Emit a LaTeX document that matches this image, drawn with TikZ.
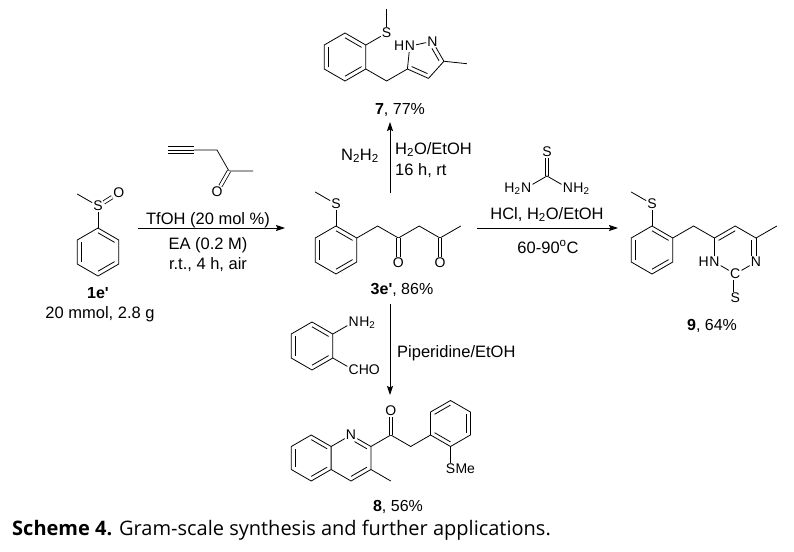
\documentclass[tikz,border=0pt]{standalone}
\usepackage{fontspec}
\setmainfont{Liberation Sans}
\newfontfamily\capfont{Open Sans}
\usetikzlibrary{calc,arrows.meta}

\newcommand\hexring[4]{%
  \coordinate (#1c) at (#2,#3);
  \coordinate (#11) at (#2,{#3-#4});
  \coordinate (#12) at ({#2+0.866*#4},{#3-0.5*#4});
  \coordinate (#13) at ({#2+0.866*#4},{#3+0.5*#4});
  \coordinate (#14) at (#2,{#3+#4});
  \coordinate (#15) at ({#2-0.866*#4},{#3+0.5*#4});
  \coordinate (#16) at ({#2-0.866*#4},{#3-0.5*#4});
}
\newcommand\rdb[4][0pt]{\draw[bond,shorten >=#1] ($(#2)!0.2!(#4)$) -- ($(#3)!0.2!(#4)$);}
\newcommand\ringsix[1]{\draw[bond] (#11)--(#12)--(#13)--(#14)--(#15)--(#16)--cycle;}

\begin{document}
\begin{tikzpicture}[x=1pt,y=-1pt,
  bond/.style={line width=0.8pt,line join=round},
  dbond/.style={bond,double,double distance=2.6pt},
  atom/.style={font=\fontsize{14}{16}\selectfont,inner sep=1pt},
  cond/.style={font=\fontsize{16.5}{19}\selectfont,inner sep=0pt},
  lab/.style={font=\fontsize{16}{19}\selectfont,inner sep=0pt},
  arr/.style={line width=0.9pt,-{Stealth[length=9pt,width=6pt,inset=1.5pt]}}]
\useasboundingbox[fill=white] (0,0) rectangle (794,551);

% ---------- 1e'
\hexring{A}{98}{252}{24}
\ringsix{A}
\rdb{A1}{A2}{Ac} \rdb{A3}{A4}{Ac} \rdb{A5}{A6}{Ac}
\node[atom] (S1) at (98,206) {S};
\node[atom] (O1) at (118.8,193) {O};
\coordinate (M1) at (77.2,194);
\draw[bond] (A1) -- (S1);
\draw[bond] (M1) -- (S1);
\draw[dbond] (S1) -- (O1);
\node[lab,anchor=base] (L1) at (98,298) {\textbf{1e\textquotesingle}};
\node[cond,anchor=base] (L1b) at (100,318) {20 mmol, 2.8 g};

% ---------- pentynone
\coordinate (Y1) at (168,150);
\coordinate (Y2) at (194,150);
\coordinate (Y3) at (217,150);
\coordinate (Y4) at (229,171);
\coordinate (Y5) at (253,171);
\node[atom] (OY) at (217,192) {O};
\draw[bond] (Y1) -- (Y2);
\draw[bond] ([yshift=3.5pt]Y1) -- ([yshift=3.5pt]Y2);
\draw[bond] ([yshift=-3.5pt]Y1) -- ([yshift=-3.5pt]Y2);
\draw[bond] (Y2) -- (Y3) -- (Y4) -- (Y5);
\draw[dbond] (Y4) -- (OY);

% ---------- arrow 1
\coordinate (R1a) at (138,228);
\coordinate (R1b) at (285,228);
\draw[arr] (R1a) -- (R1b);
\node[cond,anchor=base] (T1) at (208,224) {TfOH (20 mol \%)};
\node[cond,anchor=base] (T2) at (208,249) {EA (0.2 M)};
\node[cond,anchor=base] (T3) at (208,269) {r.t., 4 h, air};

% ---------- 3e'
\hexring{B}{336}{250}{24}
\ringsix{B}
\rdb{B1}{B2}{Bc} \rdb{B3}{B4}{Bc} \rdb{B5}{B6}{Bc}
\node[atom] (S3) at (336,204) {S};
\coordinate (M3) at (315.2,192);
\draw[bond] (B1) -- (S3);
\draw[bond] (M3) -- (S3);
\coordinate (K1) at (377.6,226);
\coordinate (K2) at (398.4,238);
\coordinate (K3) at (419.2,226);
\coordinate (K4) at (440,238);
\coordinate (K5) at (460.8,226);
\draw[bond] (B2) -- (K1) -- (K2) -- (K3) -- (K4) -- (K5);
\node[atom] (OK2) at (398.4,263) {O};
\node[atom] (OK4) at (440,263) {O};
\draw[dbond] (K2) -- (OK2);
\draw[dbond] (K4) -- (OK4);
\node[lab,anchor=base] (L3) at (402,294) {\textbf{3e\textquotesingle}, 86\%};

% ---------- arrow up
\coordinate (R2a) at (390,193);
\coordinate (R2b) at (390,122);
\draw[arr] (R2a) -- (R2b);
\node[cond,anchor=base east] (T4) at (379,160) {N\textsubscript{2}H\textsubscript{2}};
\node[cond,anchor=base west] (T5) at (395,154) {H\textsubscript{2}O/EtOH};
\node[cond,anchor=base west] (T6) at (395,175) {16 h, rt};

% ---------- 7
\hexring{C}{345}{57}{24}
\ringsix{C}
\rdb{C1}{C2}{Cc} \rdb{C3}{C4}{Cc} \rdb{C5}{C6}{Cc}
\node[atom] (S7) at (386.6,33) {S};
\coordinate (M7) at (386.6,9);
\draw[bond] (C2) -- (S7);
\draw[bond] (M7) -- (S7);
\coordinate (W0) at (386.6,81);
\coordinate (P5) at (407.4,69);
\node[atom] (P1) at (409.8,46.1) {N};
\node[atom,anchor=base east,inner sep=0pt] (P1h) at ([xshift=0.8pt]P1.base west) {H};
\node[atom] (P2) at (432.4,41.3) {N};
\coordinate (P3) at (443.9,61.25);
\coordinate (P4) at (428.5,78.4);
\coordinate (Pc) at (424.4,59.2);
\coordinate (M7b) at (466.8,63.7);
\draw[bond] (C3) -- (W0) -- (P5) -- (P4) -- (P3) -- (M7b);
\draw[bond] (P5) -- (P1);
\draw[bond] (P1) -- (P2);
\draw[bond] (P2) -- (P3);
\draw[bond] ($(P5)!0.25!(Pc)$) -- ($(P4)!0.25!(Pc)$);
\draw[bond,shorten >=3pt] ($(P3)!0.25!(Pc)$) -- ($(P2)!0.25!(Pc)$);
\node[lab,anchor=base] (L7) at (400,114) {\textbf{7}, 77\%};

% ---------- thiourea
\coordinate (Tc) at (547,176);
\node[atom] (TS) at (547,152) {S};
\node[atom] (TN1) at (526.2,188) {N};
\node[atom,anchor=base east,inner sep=0pt] (TN1h) at ([xshift=0.8pt]TN1.base west) {H\textsubscript{2}};
\node[atom] (TN2) at (567.8,188) {N};
\node[atom,anchor=base west,inner sep=0pt] (TN2h) at ([xshift=-0.8pt]TN2.base east) {H\textsubscript{2}};
\draw[dbond] (Tc) -- (TS);
\draw[bond] (TN1) -- (Tc) -- (TN2);

% ---------- arrow 2
\coordinate (R3a) at (477,228);
\coordinate (R3b) at (618,228);
\draw[arr] (R3a) -- (R3b);
\node[cond,anchor=base] (T7) at (547,219) {HCl, H\textsubscript{2}O/EtOH};
\node[cond,anchor=base] (T8) at (548,253) {60-90\textsuperscript{o}C};

% ---------- 9
\hexring{D}{652}{250}{24}
\ringsix{D}
\rdb{D1}{D2}{Dc} \rdb{D3}{D4}{Dc} \rdb{D5}{D6}{Dc}
\node[atom] (S9) at (652,204) {S};
\coordinate (M9) at (631.2,192);
\draw[bond] (D1) -- (S9);
\draw[bond] (M9) -- (S9);
\coordinate (E0) at (693.6,226);
\coordinate (Qc) at (735.2,250);
\coordinate (Q6) at (714.4,238);
\coordinate (Q5) at (735.2,226);
\coordinate (Q4) at (756,238);
\node[atom] (Q3) at (756,262) {N};
\node[atom] (Q2) at (735.2,274) {C};
\node[atom] (Q1) at (714.4,262) {N};
\node[atom,anchor=base east,inner sep=0pt] (Q1h) at ([xshift=0.8pt]Q1.base west) {H};
\coordinate (M9b) at (776.8,226);
\node[atom] (S9b) at (735.2,298) {S};
\draw[bond] (D2) -- (E0) -- (Q6) -- (Q5) -- (Q4) -- (M9b);
\draw[bond] (Q4) -- (Q3);
\draw[bond] (Q3) -- (Q2);
\draw[bond] (Q2) -- (Q1);
\draw[bond] (Q1) -- (Q6);
\draw[dbond] (Q2) -- (S9b);
\rdb{Q6}{Q5}{Qc}
\rdb[4pt]{Q4}{Q3}{Qc}
\node[lab,anchor=base] (L9) at (712,330) {\textbf{9}, 64\%};

% ---------- 2-aminobenzaldehyde
\hexring{F}{312}{346}{24}
\ringsix{F}
\rdb{F1}{F2}{Fc} \rdb{F3}{F4}{Fc} \rdb{F5}{F6}{Fc}
\node[atom] (FN) at (353.6,322) {N};
\node[atom,anchor=base west,inner sep=0pt] (FNh) at ([xshift=-0.8pt]FN.base east) {H\textsubscript{2}};
\node[atom] (FC) at (353.6,370) {C};
\node[atom,anchor=base west,inner sep=0pt] (FCh) at ([xshift=-1.2pt]FC.base east) {HO};
\draw[bond] (F2) -- (FN);
\draw[bond] (F3) -- (FC);

% ---------- arrow down
\coordinate (R4a) at (390,304);
\coordinate (R4b) at (390,395);
\draw[arr] (R4a) -- (R4b);
\node[cond,anchor=base west] (T9) at (397,357) {Piperidine/EtOH};

% ---------- 8
\hexring{G}{311.2}{458}{23}
\hexring{H}{351}{458}{23}
\ringsix{G}
\rdb{G1}{G2}{Gc} \rdb{G3}{G4}{Gc} \rdb{G5}{G6}{Gc}
\node[atom] (N8) at (H1) {N};
\draw[bond] (G2) -- (N8) -- (H2) -- (H3) -- (H4) -- (G3);
\rdb[4pt]{H2}{H1}{Hc}
\rdb{H3}{H4}{Hc}
\coordinate (M8) at (390.8,481);
\draw[bond] (H3) -- (M8);
\coordinate (J1) at (390.8,435);
\node[atom] (O8) at (390.8,411) {O};
\coordinate (J2) at (410.7,446.5);
\hexring{I}{450.5}{423.5}{23}
\ringsix{I}
\rdb{I1}{I6}{Ic} \rdb{I2}{I3}{Ic} \rdb{I4}{I5}{Ic}
\draw[bond] (H2) -- (J1) -- (J2) -- (I5);
\draw[dbond] (J1) -- (O8);
\node[atom] (S8) at (450.5,469) {S};
\node[atom,anchor=base west,inner sep=0pt] (S8m) at ([xshift=-1pt]S8.base east) {Me};
\draw[bond] (I4) -- (S8);
\node[lab,anchor=base] (L8) at (398,511) {\textbf{8}, 56\%};

% ---------- caption
\node[anchor=base west,inner sep=0pt,font=\capfont\fontsize{20}{23}\selectfont] (cap) at (12,535) {\textbf{Scheme 4.} Gram-scale synthesis and further applications.};
\end{tikzpicture}
\end{document}
